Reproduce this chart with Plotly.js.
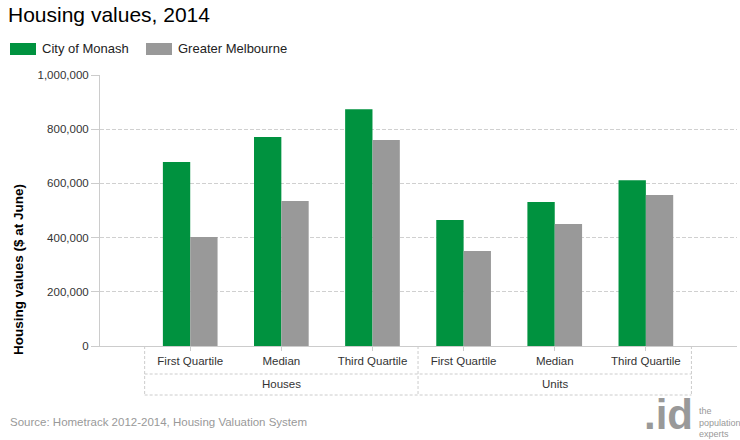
<!DOCTYPE html>
<html>
<head>
<meta charset="utf-8">
<script src="https://cdn.plot.ly/plotly-3.0.1.min.js"></script>
<style>html,body{margin:0;padding:0;background:#fff;}#chart{width:740px;height:440px;}</style>
</head>
<body>
<div id="chart"></div>
<script>
// ---- data ----
const groups = ["Houses", "Houses", "Houses", "Units", "Units", "Units"];
const measures = ["First Quartile", "Median", "Third Quartile", "First Quartile", "Median", "Third Quartile"];
const monash = [679000, 771000, 874000, 465000, 531000, 612000];
const melbourne = [402000, 535000, 760000, 351000, 450000, 557000];
const seriesNames = ["City of Monash", "Greater Melbourne"];
const seriesColors = ["#00923f", "#999999"];
const yTicks = [0, 200000, 400000, 600000, 800000, 1000000];

// ---- helpers ----
const FONT = "Liberation Sans, Arial, sans-serif";
const idx = measures.map((_, i) => i);
const L = 100, R = 737, T = 75, B = 346;           // plot area in pixels
const PW = R - L, PH = B - T;
const px = v => (v - L) / PW;                      // pixel x -> paper
const py = v => (B - v) / PH;                      // pixel y -> paper

const data = [
  {type: "bar", name: seriesNames[0], x: idx, y: monash, marker: {color: seriesColors[0]},
   customdata: measures, hovertemplate: "%{customdata}: %{y:,}<extra>" + seriesNames[0] + "</extra>"},
  {type: "bar", name: seriesNames[1], x: idx, y: melbourne, marker: {color: seriesColors[1]},
   customdata: measures, hovertemplate: "%{customdata}: %{y:,}<extra>" + seriesNames[1] + "</extra>"}
];

// group boxes under the axis
const uniqueGroups = [...new Set(groups)];
const shapes = [];
const annotations = [];
const dashStyle = {color: "#cccccc", width: 1, dash: "3px,2px"};
const rowY = py(374), botY = py(395);
uniqueGroups.forEach(g => {
  const first = groups.indexOf(g), last = groups.lastIndexOf(g);
  shapes.push({type: "line", xref: "x", yref: "paper", x0: first - 0.5, x1: first - 0.5, y0: 0, y1: botY, line: dashStyle});
  annotations.push({text: g, xref: "x", yref: "paper", x: (first + last) / 2, y: py(384),
                    xanchor: "center", yanchor: "middle", showarrow: false,
                    font: {family: FONT, size: 11.5, color: "#333"}});
});
shapes.push({type: "line", xref: "x", yref: "paper", x0: groups.length - 0.5, x1: groups.length - 0.5, y0: 0, y1: botY, line: dashStyle});
shapes.push({type: "line", xref: "x", yref: "paper", x0: -0.5, x1: groups.length - 0.5, y0: rowY, y1: rowY, line: dashStyle});
shapes.push({type: "line", xref: "x", yref: "paper", x0: -0.5, x1: groups.length - 0.5, y0: botY, y1: botY, line: dashStyle});

// custom legend (wide swatches as in the reference)
const legendItems = [{x0: 10, x1: 36, tx: 40}, {x0: 146, x1: 172, tx: 176}];
legendItems.forEach((it, i) => {
  shapes.push({type: "rect", xref: "paper", yref: "paper", x0: px(it.x0), x1: px(it.x1),
               y0: py(55), y1: py(43), fillcolor: seriesColors[i], line: {width: 0}});
  annotations.push({text: seriesNames[i], xref: "paper", yref: "paper", x: px(it.tx), y: py(49),
                    xanchor: "left", yanchor: "middle", showarrow: false,
                    font: {family: FONT, size: 13, color: "#222"}});
});

// y-axis title, source, logo
annotations.push(
  {text: "<b>Housing values ($ at June)</b>", xref: "paper", yref: "paper", x: px(18), y: py(270),
   xanchor: "center", yanchor: "middle", textangle: -90, showarrow: false,
   font: {family: FONT, size: 13.5, color: "#000"}},
  {text: "Source: Hometrack 2012-2014, Housing Valuation System", xref: "paper", yref: "paper",
   x: px(8), y: py(422), xanchor: "left", yanchor: "middle", showarrow: false,
   font: {family: FONT, size: 11.5, color: "#999"}},
  {text: "<b>.id</b>", xref: "paper", yref: "paper", x: px(694), y: py(415),
   xanchor: "right", yanchor: "middle", showarrow: false, borderpad: 0,
   font: {family: FONT, size: 42, color: "#999"}},
  {text: "the<br>population<br>experts", xref: "paper", yref: "paper", x: px(697),
   y: py(422), xanchor: "left", yanchor: "middle", align: "left", showarrow: false,
   font: {family: FONT, size: 9, color: "#999"}}
);

const layout = {
  width: 740, height: 440,
  margin: {l: L, r: 740 - R, t: T, b: 440 - B},
  paper_bgcolor: "#fff", plot_bgcolor: "#fff",
  font: {family: FONT, size: 11, color: "#333"},
  title: {text: "Housing values, 2014", x: 8/740, xanchor: "left", xref: "container",
          y: 1 - 15/440, yanchor: "middle", yref: "container",
          font: {family: FONT, size: 21, color: "#000"}},
  showlegend: false,
  barmode: "group", bargap: 0.4, bargroupgap: 0,
  xaxis: {range: [-0.99, 6.0], tickvals: idx, ticktext: measures, showline: true, linecolor: "#ccc",
          linewidth: 1, ticks: "outside", ticklen: 4, tickcolor: "#ccc", showgrid: false, zeroline: false,
          tickfont: {family: FONT, size: 11.5, color: "#333"}, fixedrange: true},
  yaxis: {range: [0, 1000000], tickvals: yTicks, tickformat: ",d", showline: true, linecolor: "#ccc",
          ticks: "outside", ticklen: 8, tickcolor: "#ccc", gridcolor: "#d0d0d0", griddash: "4px,2px",
          zeroline: false, tickfont: {family: FONT, size: 11.5, color: "#333"}, fixedrange: true},
  shapes: shapes,
  annotations: annotations
};
Plotly.newPlot("chart", data, layout, {displayModeBar: false});
</script>
</body>
</html>
